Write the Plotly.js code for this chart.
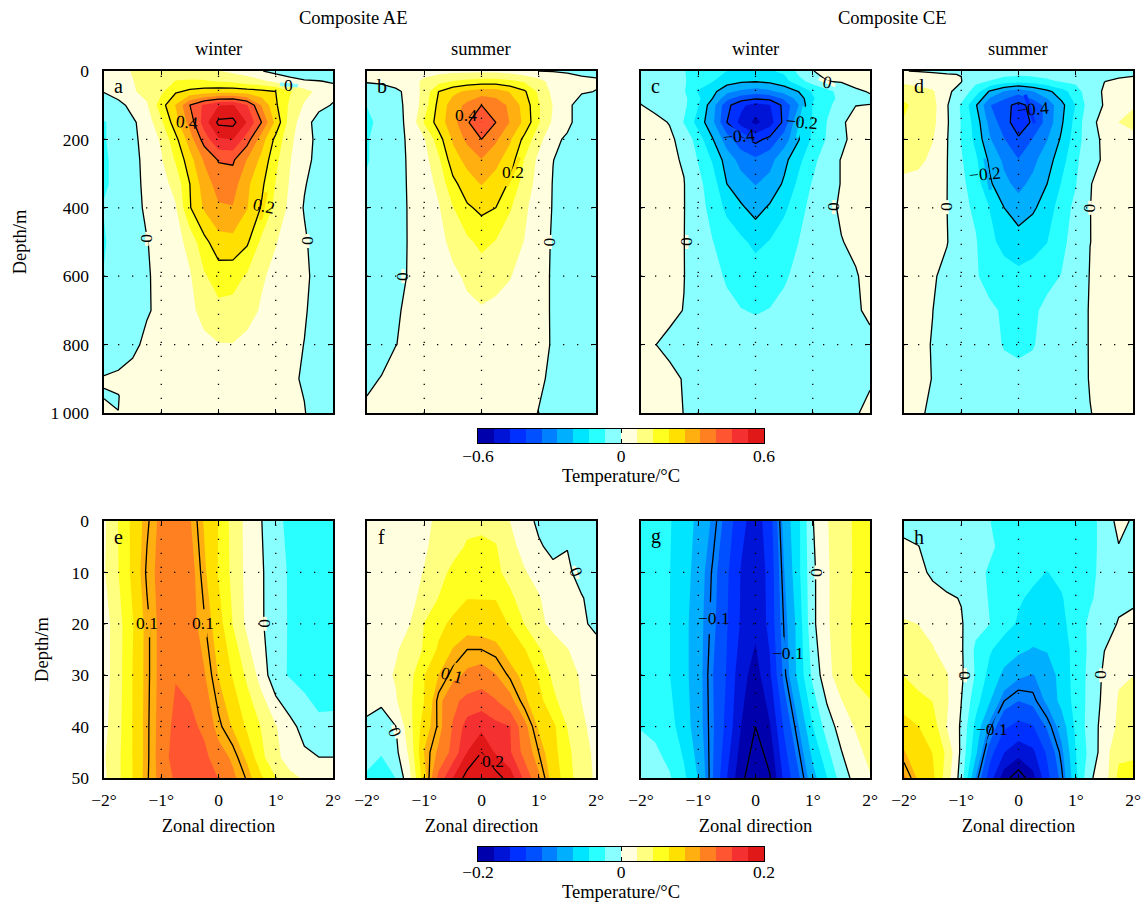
<!DOCTYPE html>
<html><head><meta charset="utf-8">
<script src="https://cdn.plot.ly/plotly-3.0.1.min.js"></script>
<style>html,body{margin:0;padding:0;background:#fff}</style></head>
<body><div id="chart" style="width:1145px;height:902px"></div>
<script>
const zonal=[-2,-1.75,-1.5,-1.25,-1,-.75,-.5,-.25,0,.25,.5,.75,1,1.25,1.5,1.75,2];
const bandColors=['#0000ad','#0014d8','#0030ff','#0050ff','#0080ff','#00b0ff','#00e5ff','#2affff','#8affff','#ffffe0','#ffff80','#ffff20','#ffe000','#ffb010','#ff8020','#ff5530','#f53030','#e01818'];

const depthA=[0,30,60,100,150,200,260,330,400,500,600,700,800,900,950,1000];
const panelA=[
[.03,.05,.07,.09,.1,.11,.1,.09,.07,.05,.035,.003,-.02,-.03,-.03,-.04,-.04],
[.02,.04,.065,.085,.11,.135,.14,.14,.13,.12,.1,.08,.05,.02,.005,.002,-.005],
[.003,.03,.06,.085,.12,.19,.215,.23,.24,.24,.23,.22,.2,.14,.09,.05,.02],
[-.04,-.02,.02,.06,.17,.27,.4,.48,.53,.54,.47,.33,.21,.12,.06,.02,-.005],
[-.07,-.05,-.01,.03,.12,.24,.36,.5,.615,.62,.53,.4,.25,.1,.03,-.03,-.05],
[-.07,-.05,-.015,.025,.075,.18,.3,.43,.525,.535,.43,.3,.18,.08,.03,-.02,-.05],
[-.07,-.06,-.02,.02,.06,.14,.24,.34,.405,.41,.33,.25,.15,.07,.02,-.02,-.05],
[-.07,-.06,-.02,.015,.04,.09,.2,.3,.36,.365,.28,.215,.13,.06,.005,-.03,-.05],
[-.065,-.055,-.025,.012,.03,.06,.195,.275,.325,.33,.27,.195,.115,.05,-.005,-.03,-.04],
[-.07,-.05,-.03,-.002,.02,.04,.09,.18,.24,.245,.21,.12,.07,.04,.01,-.035,-.04],
[-.065,-.05,-.03,-.005,.015,.03,.06,.125,.165,.16,.125,.075,.05,.03,.012,-.02,-.035],
[-.06,-.05,-.03,-.004,.01,.03,.05,.09,.115,.11,.09,.06,.035,.02,.005,-.02,-.03],
[-.05,-.03,-.01,.01,.02,.03,.04,.05,.064,.065,.05,.04,.03,.015,-.001,-.02,-.03],
[.005,.01,.015,.02,.03,.03,.03,.04,.04,.04,.04,.03,.02,.008,-.005,-.02,-.03],
[-.004,-.001,.015,.02,.025,.03,.03,.035,.035,.035,.03,.03,.02,.01,-.001,-.02,-.03],
[.02,.0002,.015,.015,.02,.025,.025,.03,.03,.03,.025,.025,.015,.008,.002,-.02,-.03]];

const depthB=[0,30,60,100,150,200,260,330,400,500,600,700,800,900,1000];
const panelB=[
[.01,.015,.02,.03,.04,.045,.05,.05,.05,.05,.04,.02,-.001,-.003,-.005,-.01,-.01],
[.005,.01,.02,.04,.08,.11,.135,.15,.16,.16,.145,.125,.09,.04,.02,.01,.005],
[-.03,-.025,-.01,.015,.09,.2,.25,.28,.3,.3,.26,.21,.12,.05,.015,.004,-.001],
[-.065,-.04,-.01,.01,.1,.22,.3,.35,.4,.37,.32,.24,.14,.065,.01,-.02,-.03],
[-.08,-.05,-.015,.012,.14,.23,.31,.39,.47,.4,.33,.25,.14,.055,.015,-.03,-.04],
[-.07,-.05,-.015,.008,.06,.17,.275,.35,.4,.345,.275,.18,.09,.015,-.01,-.03,-.04],
[-.07,-.05,-.015,.006,.04,.12,.24,.285,.33,.285,.235,.13,.05,.001,-.02,-.035,-.04],
[-.06,-.05,-.015,.005,.03,.085,.18,.24,.27,.24,.19,.1,.045,-.003,-.02,-.03,-.04],
[-.06,-.045,-.015,.004,.025,.06,.13,.19,.215,.2,.14,.08,.03,-.003,-.02,-.03,-.035],
[-.055,-.04,-.012,.003,.02,.04,.09,.12,.15,.13,.09,.065,.02,-.005,-.02,-.03,-.03],
[-.05,-.035,-.01,.003,.015,.03,.05,.08,.1,.09,.07,.04,.015,-.005,-.02,-.025,-.03],
[-.045,-.03,-.003,.005,.01,.02,.03,.05,.06,.05,.04,.025,.012,-.004,-.015,-.02,-.03],
[-.035,-.02,-.0005,.005,.01,.015,.02,.03,.04,.03,.025,.02,.01,-.003,-.015,-.02,-.025],
[-.01,.002,.01,.01,.012,.015,.02,.025,.025,.02,.02,.015,.005,-.006,-.012,-.018,-.022],
[.01,.01,.01,.01,.01,.015,.015,.015,.015,.015,.015,.01,-.001,-.01,-.015,-.02,-.02]];

const depthC=[0,30,60,80,100,150,200,260,330,400,500,600,700,800,900,1000];
const panelC=[
[-.03,-.04,-.055,-.063,-.1,-.115,-.133,-.15,-.155,-.14,-.12,-.05,-.001,.01,.01,.01,.01],
[-.02,-.035,-.05,-.06,-.1,-.13,-.17,-.19,-.195,-.185,-.16,-.09,-.04,-.0005,.006,.01,.01],
[-.01,-.025,-.04,-.06,-.14,-.18,-.25,-.28,-.3,-.28,-.245,-.2,-.125,-.085,-.045,-.005,.002],
[-.005,-.02,-.035,-.05,-.12,-.2,-.31,-.37,-.39,-.38,-.32,-.24,-.14,-.09,-.05,-.012,-.004],
[.001,-.01,-.03,-.05,-.13,-.24,-.38,-.45,-.5,-.47,-.38,-.27,-.13,-.08,-.04,-.0005,.0005],
[.015,.01,-.002,-.07,-.16,-.25,-.4,-.49,-.55,-.5,-.38,-.205,-.13,-.065,-.004,.01,.02],
[.02,.02,.008,-.015,-.1,-.195,-.3,-.38,-.42,-.38,-.3,-.205,-.12,-.06,-.01,.015,.025],
[.025,.02,.01,-.005,-.07,-.14,-.23,-.29,-.32,-.29,-.22,-.15,-.09,-.02,.002,.01,.02],
[.025,.02,.01,.002,-.05,-.1,-.2,-.24,-.27,-.245,-.19,-.12,-.06,-.02,.002,.01,.02],
[.025,.02,.01,.002,-.045,-.085,-.15,-.19,-.225,-.19,-.15,-.085,-.05,-.008,.004,.01,.02],
[.03,.02,.01,.001,-.04,-.065,-.09,-.12,-.15,-.13,-.09,-.067,-.04,-.015,-.001,.005,.015],
[.03,.02,.01,.001,-.025,-.045,-.075,-.09,-.1,-.09,-.075,-.05,-.04,-.025,-.012,-.002,.008],
[.025,.02,.008,-.001,-.02,-.035,-.05,-.065,-.07,-.065,-.05,-.04,-.03,-.02,-.012,-.002,.003],
[.01,.0005,-.008,-.015,-.02,-.025,-.03,-.04,-.045,-.04,-.03,-.03,-.025,-.02,-.015,-.01,-.004],
[.02,.015,.008,-.002,-.01,-.015,-.02,-.025,-.03,-.025,-.02,-.02,-.02,-.015,-.012,-.008,-.003],
[.02,.015,.008,-.0005,-.005,-.01,-.012,-.015,-.02,-.015,-.012,-.012,-.012,-.01,-.008,-.002,.006]];

const depthD=[0,10,30,60,100,150,200,260,330,400,500,600,700,800,900,1000];
const panelD=[
[.001,-.002,-.005,-.01,-.02,-.03,-.04,-.05,-.05,-.05,-.04,-.035,-.025,-.015,-.012,-.01,-.01],
[.03,.01,.005,.002,-.001,-.02,-.04,-.05,-.055,-.05,-.045,-.04,-.03,-.02,-.012,-.006,-.003],
[.05,.045,.03,.015,.002,-.05,-.07,-.1,-.11,-.1,-.08,-.06,-.05,-.02,-.0005,.005,.008],
[.115,.09,.075,.01,-.02,-.1,-.21,-.27,-.31,-.27,-.22,-.16,-.1,-.02,.005,.006,.01],
[.14,.12,.09,.006,-.075,-.19,-.33,-.38,-.42,-.38,-.31,-.22,-.13,-.03,.004,.045,.06],
[.13,.12,.085,.008,-.07,-.16,-.29,-.37,-.44,-.39,-.31,-.21,-.11,-.012,.015,.067,.09],
[.1,.09,.07,.004,-.07,-.15,-.26,-.33,-.39,-.33,-.27,-.19,-.1,-.02,.01,.03,.04],
[.09,.085,.05,.002,-.06,-.12,-.215,-.28,-.33,-.285,-.23,-.16,-.08,-.02,.008,.025,.03],
[.05,.04,.025,.001,-.05,-.1,-.19,-.25,-.285,-.25,-.2,-.13,-.07,-.001,.008,.02,.025],
[.04,.03,.02,.0003,-.045,-.08,-.135,-.2,-.24,-.21,-.17,-.1,-.05,-.0003,.008,.015,.02],
[.03,.025,.015,.002,-.03,-.06,-.12,-.15,-.165,-.155,-.135,-.08,-.045,-.0003,.006,.012,.018],
[.025,.02,.005,-.012,-.03,-.06,-.09,-.11,-.12,-.11,-.08,-.065,-.03,.002,.01,.015,.02],
[.02,.015,.0005,-.02,-.03,-.04,-.055,-.075,-.095,-.075,-.055,-.045,-.02,.003,.01,.015,.02],
[.02,.01,-.002,-.015,-.025,-.035,-.05,-.07,-.075,-.07,-.05,-.035,-.02,.003,.01,.015,.02],
[.02,.01,-.001,-.01,-.02,-.03,-.04,-.05,-.055,-.05,-.04,-.03,-.015,.002,.01,.015,.02],
[.015,.005,-.006,-.01,-.015,-.02,-.025,-.03,-.03,-.03,-.025,-.02,-.012,-.001,.008,.012,.015]];

const depthE=[0,10,20,30,40,46,50];
const panelE=[
[.018,.045,.072,.097,.117,.125,.113,.087,.066,.036,.016,.0005,-.016,-.028,-.035,-.037,-.035],
[.02,.044,.072,.103,.118,.127,.121,.093,.065,.038,.016,.003,-.016,-.024,-.03,-.032,-.03],
[.012,.036,.065,.096,.118,.127,.12,.102,.077,.044,.017,.003,-.015,-.024,-.03,-.032,-.03],
[.012,.036,.067,.096,.118,.132,.126,.113,.088,.065,.04,.013,-.016,-.024,-.03,-.033,-.032],
[.016,.038,.067,.097,.119,.14,.14,.128,.104,.087,.063,.043,.024,.006,-.007,-.018,-.018],
[.02,.04,.067,.097,.12,.145,.15,.14,.12,.108,.085,.05,.028,.012,.004,.0002,.0002],
[.018,.04,.067,.098,.118,.137,.146,.14,.133,.115,.098,.07,.045,.028,.02,.012,.006]];

const depthF=[0,5,10,15,20,25,30,35,40,45,50];
const panelF=[
[.008,.01,.012,.016,.019,.025,.03,.038,.04,.034,.022,.01,-.005,-.015,-.016,-.016,-.015],
[.008,.01,.012,.016,.02,.028,.036,.047,.048,.046,.028,.016,.003,-.006,-.0005,-.012,-.012],
[.008,.01,.012,.017,.023,.036,.05,.056,.054,.05,.036,.024,.015,.006,.003,-.006,-.008],
[.007,.01,.012,.018,.027,.045,.056,.066,.066,.066,.05,.032,.024,.012,.006,.001,-.006],
[.007,.01,.012,.022,.045,.06,.072,.08,.078,.075,.065,.044,.027,.017,.01,.003,-.004],
[.008,.012,.02,.03,.047,.07,.09,.1,.1,.095,.08,.068,.047,.032,.023,.014,.006],
[.01,.016,.024,.037,.066,.089,.105,.115,.12,.112,.097,.083,.064,.04,.03,.02,.012],
[.006,.002,.02,.04,.067,.105,.128,.14,.145,.135,.118,.093,.075,.05,.032,.022,.015],
[-.004,-.006,-.0005,.037,.078,.103,.135,.165,.172,.162,.156,.118,.086,.072,.044,.025,.017],
[-.015,-.02,-.006,.028,.09,.115,.14,.178,.2,.175,.158,.125,.1,.075,.05,.03,.018],
[-.025,-.037,-.022,.018,.08,.14,.178,.21,.22,.21,.19,.15,.115,.08,.055,.03,.02]];

const depthG=[0,10,20,30,40,50];
const panelG=[
[-.03,-.038,-.043,-.055,-.072,-.092,-.12,-.15,-.165,-.145,-.08,-.05,-.001,.021,.035,.048,.055],
[-.03,-.038,-.044,-.056,-.078,-.102,-.13,-.157,-.168,-.15,-.09,-.05,-.005,.02,.033,.048,.055],
[-.03,-.037,-.044,-.06,-.08,-.105,-.132,-.158,-.172,-.15,-.098,-.058,-.005,.02,.033,.05,.055],
[-.033,-.037,-.044,-.06,-.08,-.11,-.135,-.17,-.187,-.16,-.105,-.06,-.017,.016,.033,.048,.05],
[-.023,-.025,-.037,-.055,-.08,-.108,-.14,-.178,-.2,-.18,-.13,-.09,-.045,-.012,.01,.024,.038],
[-.012,-.016,-.02,-.04,-.068,-.11,-.155,-.195,-.215,-.202,-.15,-.115,-.075,-.045,-.012,.008,.02]];

const depthH=[0,5,10,15,20,25,30,35,40,45,50];
const panelH=[
[-.008,-.01,-.012,-.014,-.018,-.02,-.022,-.028,-.03,-.032,-.034,-.036,-.032,-.028,-.016,.008,-.003],
[.004,.0005,-.008,-.012,-.016,-.018,-.02,-.026,-.032,-.034,-.035,-.034,-.032,-.028,-.016,-.001,-.008],
[.012,.006,-.004,-.01,-.015,-.018,-.024,-.03,-.038,-.04,-.045,-.04,-.033,-.027,-.016,-.006,-.008],
[.015,.012,.008,.003,-.001,-.012,-.024,-.036,-.042,-.048,-.05,-.046,-.034,-.025,-.014,-.003,-.002],
[.024,.022,.015,.01,.002,-.015,-.022,-.036,-.047,-.055,-.056,-.05,-.034,-.018,-.006,.001,.003],
[.03,.028,.024,.012,.003,-.026,-.042,-.055,-.062,-.068,-.065,-.056,-.036,-.018,-.0003,.006,.006],
[.044,.036,.03,.024,.004,-.024,-.052,-.072,-.085,-.09,-.08,-.058,-.036,-.016,.004,.02,.022],
[.055,.05,.044,.025,.0003,-.035,-.065,-.1,-.111,-.105,-.085,-.06,-.037,-.015,.006,.024,.028],
[.077,.067,.056,.022,-.003,-.05,-.096,-.13,-.14,-.135,-.108,-.08,-.04,-.012,.009,.026,.03],
[.09,.08,.066,.04,-.005,-.06,-.125,-.155,-.168,-.16,-.13,-.095,-.045,-.015,.012,.04,.042],
[.115,.085,.072,.033,-.01,-.09,-.145,-.19,-.215,-.185,-.14,-.105,-.05,-.003,.012,.05,.05]];

const panels=[
 {z:panelA,y:depthA,letter:'a',px:104},{z:panelB,y:depthB,letter:'b',px:367},
 {z:panelC,y:depthC,letter:'c',px:641},{z:panelD,y:depthD,letter:'d',px:904},
 {z:panelE,y:depthE,letter:'e',px:104},{z:panelF,y:depthF,letter:'f',px:367},
 {z:panelG,y:depthG,letter:'g',px:641},{z:panelH,y:depthH,letter:'h',px:904}];

// panel, text, x, y, text angle, local band colour, line direction, half gap (px), gap offset (px)
const contourLabels=[
 [0,'0',1.23,41,0,'#8affff',5,9,0,0],[0,'0',-1.25,491,90,'#ffffe0',90,7,0,0],[0,'0',1.56,497,90,'#ffffe0',90,7,0,0],
 [0,'0.4',-.55,149,5,'#ff8020',78,15,4,0],[0,'0.2',.8,395,12,'#ffe000',102,14,-1,0],
 [1,'0.4',-.27,129,0,'#ff8020',-55,16,3,0],[1,'0.2',.55,295,0,'#ffe000',114,16,0,0],[1,'0',-1.37,600,90,'#ffffe0',90,7,0,0],[1,'0',1.2,500,90,'#ffffe0',90,7,0,0],
 [2,'0',1.25,32,10,'#ffffe0',24,9,0,0],[2,'\u22120.2',.81,149,5,'#00e5ff',102,16,-1,0],[2,'\u22120.4',-.29,190,-5,'#0050ff',30,16,0,-3],[2,'0',1.37,398,90,'#ffffe0',90,7,0,0],[2,'0',-1.2,500,90,'#ffffe0',90,7,0,0],
 [3,'\u22120.4',.25,111,-5,'#0030ff',72,15,-3,0],[3,'\u22120.2',-.59,301,-5,'#00b0ff',80,16,3,0],[3,'0',-1.25,398,90,'#ffffe0',90,7,0,0],[3,'0',1.25,400,90,'#ffffe0',90,7,0,0],
 [4,'0.1',-1.25,19.9,0,'#ffb010',90,14,2,0],[4,'0.1',-.27,19.9,0,'#ffb010',88,14,2,0],[4,'0',.81,20,90,'#ffffe0',90,7,0,0],
 [5,'0.1',-.52,30,15,'#ffb010',114,13,0,0],[5,'0.2',.2,46.7,0,'#e01818',40,16,-3,1],[5,'0',1.65,10,70,'#ffffe0',70,7,0,0],[5,'0',-1.51,41,70,'#ffffe0',70,7,0,0],
 [6,'\u22120.1',-.72,18.9,0,'#0080ff',90,16,-5,0],[6,'\u22120.1',.57,25.7,0,'#0080ff',85,16,-4,0],[6,'0',1.06,10,90,'#ffffe0',90,7,0,0],
 [7,'\u22120.1',-.46,40.4,0,'#0080ff',110,16,1,0],[7,'0',-.93,30,90,'#ffffe0',90,7,0,0],[7,'0',1.44,30,90,'#ffffe0',90,7,0,0]];

const W=1145,H=902,PW=229,TOP=[71,413],BOT=[521,778];
const font={family:'"Liberation Serif",serif',size:17.5,color:'#000'};
const titleFont={...font,size:18.5};
const scale20=[bandColors[0],...bandColors,bandColors[17]].map((c,i)=>[i/19,c]);
const scale18=bandColors.map((c,i)=>[i/17,c]);
const layout={width:W,height:H,margin:{l:0,r:0,t:0,b:0},paper_bgcolor:'#fff',plot_bgcolor:'#fff',font,showlegend:false,annotations:[],shapes:[]};
const traces=[];
const depthTicks=[0,200,400,600,800,1000], depthTickText=['0','200','400','600','800','1\u2009000'];
const shallowTicks=[0,10,20,30,40,50];
const zonalTicks=[-2,-1,0,1,2], zonalText=['\u22122\u00b0','\u22121\u00b0','0','1\u00b0','2\u00b0'];

panels.forEach((p,i)=>{
 const top=i<4, n=i+1, ax=n===1?'':n, [a,b]=top?TOP:BOT;
 const amp=top?.6:.2, stepLine=top?.2:.1;
 traces.push({type:'contour',x:zonal,y:p.y,z:p.z,xaxis:'x'+ax,yaxis:'y'+ax,autocontour:false,showscale:false,hoverinfo:'skip',
  colorscale:scale20,contours:{coloring:'fill',start:-amp,end:amp+.0001,size:2*amp/18,showlines:false},line:{width:0,smoothing:0}});
 traces.push({type:'contour',x:zonal,y:p.y,z:p.z,xaxis:'x'+ax,yaxis:'y'+ax,autocontour:false,showscale:false,hoverinfo:'skip',
  contours:{coloring:'none',start:-amp,end:amp+.0001,size:stepLine,showlines:true},line:{color:'#000',width:1.3,smoothing:0}});
 const common={ticks:'inside',ticklen:4,tickwidth:1,tickcolor:'#000',linecolor:'#000',linewidth:1.6,mirror:'ticks',showgrid:false,zeroline:false,tickfont:font};
 layout['xaxis'+ax]=Object.assign({},common,{domain:[p.px/W,(p.px+PW)/W],range:[-2,2],anchor:'y'+ax,tickvals:zonalTicks,
   ticktext:zonalText,showticklabels:!top,ticklabelstandoff:5});
 if(!top) layout['xaxis'+ax].title={text:'Zonal direction',font:titleFont,standoff:10};
 layout['yaxis'+ax]=Object.assign({},common,{domain:[1-b/H,1-a/H],range:top?[1000,0]:[50,0],anchor:'x'+ax,
   tickvals:top?depthTicks:shallowTicks,ticktext:top?depthTickText:shallowTicks.map(String),showticklabels:i%4===0,ticklabelstandoff:10});
 if(i%4===0) layout['yaxis'+ax].title={text:'Depth/m',font:titleFont,standoff:top?19:18};
 const xr='x'+ax, yr='y'+ax;
 [-1,0,1].forEach(v=>layout.shapes.push({type:'line',xref:xr,yref:yr,x0:v,x1:v,y0:top?1000:50,y1:0,layer:'above',line:{color:'#000',width:1.3,dash:'1.3px,12.7px'}}));
 (top?depthTicks:shallowTicks).slice(1,-1).forEach(v=>layout.shapes.push({type:'line',xref:xr,yref:yr,x0:-2,x1:2,y0:v,y1:v,layer:'above',line:{color:'#000',width:1.3,dash:'1.3px,12.7px'}}));
 layout.annotations.push({xref:xr+' domain',yref:yr+' domain',x:.065,y:top?.956:.938,xanchor:'center',yanchor:'middle',text:p.letter,showarrow:false,font:{...font,size:20}});
});
contourLabels.forEach(([i,t,x,y,ang,band,dir,half,dx,dy])=>{
 const ax=i===0?'':i+1, top=i<4, sx=PW/4, sy=top?342/1000:257/50;
 const cx=x+dx/sx, cy=y+dy/sy, r=dir*Math.PI/180;
 layout.shapes.push({type:'line',xref:'x'+ax,yref:'y'+ax,layer:'above',x0:cx-Math.cos(r)*half/sx,x1:cx+Math.cos(r)*half/sx,y0:cy-Math.sin(r)*half/sy,y1:cy+Math.sin(r)*half/sy,line:{color:band,width:3.5}});
 layout.annotations.push({xref:'x'+ax,yref:'y'+ax,x,y,xanchor:'center',yanchor:'middle',text:t,textangle:ang,showarrow:false,borderpad:0,font:{...font,size:17.5}});
});
[['Composite AE',353,18],['Composite CE',892,18],['winter',218,49],['summer',481,49],['winter',755,49],['summer',1018,49],['Temperature/\u00b0C',621,476],['Temperature/\u00b0C',621,892]].forEach(([t,x,y])=>
 layout.annotations.push({xref:'paper',yref:'paper',x:x/W,y:1-y/H,xanchor:'center',yanchor:'middle',text:t,showarrow:false,font:titleFont}));

[[9,[478,764],[429,443],.6,'\u22120.6','0.6',-3],[10,[478,764],[847,861],.2,'\u22120.2','0.2',-5]].forEach(([n,xp,yp,amp,lo,hi,labelGap])=>{
 const edges=[...Array(19).keys()].map(k=>-amp+k*amp/9);
 traces.push({type:'heatmap',x:edges,y:[0,1],z:[bandColors.map((c,k)=>k)],xaxis:'x'+n,yaxis:'y'+n,colorscale:scale18,zmin:0,zmax:17,showscale:false,hoverinfo:'skip'});
 layout['xaxis'+n]={domain:[xp[0]/W,xp[1]/W],range:[-amp,amp],anchor:'y'+n,tickvals:[-amp,0,amp],ticktext:[lo,'0',hi],ticks:'inside',ticklen:4,tickcolor:'#000',tickwidth:1,ticklabelstandoff:labelGap,
   linecolor:'#000',linewidth:1.4,mirror:'ticks',showgrid:false,zeroline:false,tickfont:font};
 layout['yaxis'+n]={domain:[1-yp[1]/H,1-yp[0]/H],range:[0,1],anchor:'x'+n,showticklabels:false,ticks:'',linecolor:'#000',linewidth:1.4,mirror:true,showgrid:false,zeroline:false};
});
Plotly.newPlot('chart',traces,layout,{staticPlot:true,displayModeBar:false});
</script></body></html>
